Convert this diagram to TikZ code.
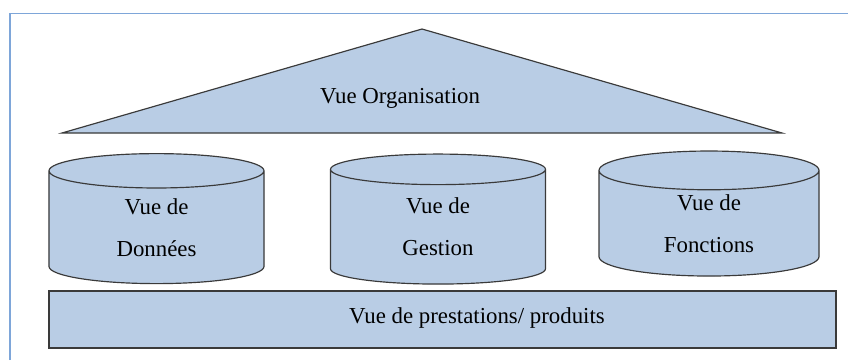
\documentclass[tikz,border=0pt]{standalone}
\usepackage{fontspec}
\setmainfont{Liberation Serif}
\usetikzlibrary{shapes.geometric,positioning}
\definecolor{vuefill}{HTML}{B9CDE5}
\definecolor{vuetop}{HTML}{C6D8EC}
\definecolor{vueline}{HTML}{3A3A3A}
\definecolor{framecol}{HTML}{7EA6D9}

\begin{document}
\begin{tikzpicture}
[x=0.03cm, y=-0.03cm,
vue/.style = {draw=vueline, line width=1pt, fill=vuefill},
base/.style = {vue, shape=cylinder, shape border rotate=90, aspect=0.43,
  cylinder uses custom fill, cylinder body fill=vuefill, cylinder end fill=vuetop,
  inner sep=0pt, minimum width=6.45cm, minimum height=3.9cm,
  align=center, font=\fontsize{19.5}{36}\selectfont},
txt/.style = {font=\fontsize{19.5}{24}\selectfont}]
\useasboundingbox (0,0) rectangle (848,360);
\draw[framecol, line width=1.6pt] (10,360) -- (10,13.5) -- (848,13.5);

\coordinate (left) at (62,133);
\coordinate (apex) at (422,29);
\coordinate (right) at (782,133);
\draw[vue] (left) -- (apex) -- (right) -- cycle;
\node[txt] (org) at (400,98) {Vue Organisation};

\node[base] (dat) at (156.5,227.5) {Vue de\\Données};
\node[base] (ges) at (438,227) {Vue de\\Gestion};
\node[base, minimum width=6.6cm, minimum height=3.75cm] (fon) at (709,223.5)
  {Vue de\\Fonctions};

\node[vue, minimum width=23.61cm, minimum height=1.71cm] (prod) at (442.5,319.5) {};
\node[txt] (prodA) at (477,318) {Vue de prestations/ produits};
\end{tikzpicture}
\end{document}
